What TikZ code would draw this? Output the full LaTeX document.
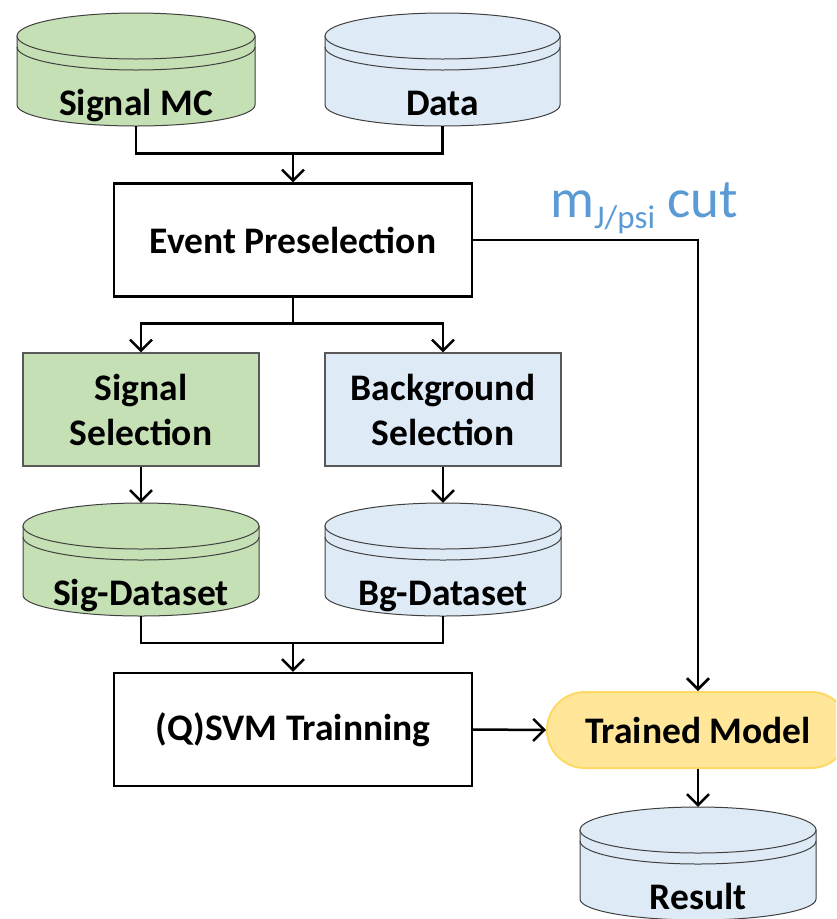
\documentclass[tikz,border=0pt]{standalone}
\usepackage{fontspec}
\setmainfont{Carlito}
\usetikzlibrary{arrows.meta,calc}

\definecolor{sigfill}{HTML}{C5E0B4}
\definecolor{bgfill}{HTML}{DEEBF7}
\definecolor{modelfill}{HTML}{FFE699}
\definecolor{modelline}{HTML}{FFD966}
\definecolor{cylline}{HTML}{404040}
\definecolor{boxline}{HTML}{595959}
\definecolor{cutblue}{HTML}{5B9BD5}

% database cylinder: #1 name, #2 centre x, #3 top-ellipse centre y, #4 x radius, #5 fill, #6 label
\newcommand{\dbstore}[6]{%
  \path[draw=cylline, line width=1pt, fill=#5]
    ({#2-#4},#3) -- ({#2-#4},{#3+69})
    arc[start angle=180, end angle=0, x radius=#4, y radius=21]
    -- ({#2+#4},#3) -- cycle;
  \path[draw=cylline, line width=1pt, fill=#5] (#2,#3) ellipse[x radius=#4, y radius=23];
  \draw[cylline, line width=1pt] ({#2-#4},{#3+11})
    arc[start angle=180, end angle=0, x radius=#4, y radius=23];
  \node[inner sep=0, minimum width={2*#4*1pt}, minimum height=113pt] (#1) at (#2,{#3+33.5}) {};
  \node[lbl, anchor=base] (#1-text) at (#2,{#3+79}) {#6};
}

\begin{document}
\begin{tikzpicture}[x=1pt, y=-1pt,
  lbl/.style={font=\fontsize{37.5}{45}\selectfont\bfseries, align=center, inner sep=0pt},
  procbox/.style={lbl, draw=black, line width=2.2pt, fill=white,
                  minimum width=358pt, minimum height=113pt},
  selbox/.style={lbl, draw=boxline, line width=1.2pt,
                 minimum width=236pt, minimum height=113pt},
  modelbox/.style={lbl, draw=modelline, line width=2pt, fill=modelfill,
                   rounded corners=38pt, minimum width=302pt, minimum height=76pt},
  wire/.style={draw=black, line width=2.5pt},
  flow/.style={wire, -{Straight Barb[length=11pt, width=22pt]}}
]
\useasboundingbox (0,0) rectangle (836,919);
\clip (0,0) rectangle (836,919);
\fill[white] (0,0) rectangle (836,919);

% input stores
\dbstore{smc}{136}{36}{119}{sigfill}{Signal MC}
\dbstore{data}{442.5}{36}{117.5}{bgfill}{Data}

% processing boxes
\node[procbox] (pre) at (293,240) {Event Preselection};
\node[selbox, fill=sigfill] (sigsel) at (141,409.5) {Signal\\Selection};
\node[selbox, fill=bgfill] (bgsel) at (443,409.5) {Background\\Selection};

% selected datasets
\dbstore{sigds}{141}{526}{118}{sigfill}{Sig-Dataset}
\dbstore{bgds}{443}{526}{118}{bgfill}{Bg-Dataset}

\node[procbox] (svm) at (293,729.5) {\raisebox{-3pt}{(Q)SVM Trainning}};
\node[modelbox] (tm) at (698,730) {Trained Model};

\dbstore{res}{698}{830}{118}{bgfill}{Result}

% merge of the two inputs
\coordinate (j1) at ($(pre.north)+(0,-29)$);
\draw[wire] (smc.south) |- (j1);
\draw[wire] (data.south) |- (j1);
\draw[flow] (j1) -- (pre.north);

% split into signal / background selection
\coordinate (j2) at ($(pre.south)+(0,26)$);
\draw[wire] (pre.south) -- (j2);
\draw[flow] (j2) -| (sigsel.north);
\draw[flow] (j2) -| (bgsel.north);

\draw[flow] (sigsel.south) -- (sigds.north);
\draw[flow] (bgsel.south) -- (bgds.north);

% merge of the datasets into training
\coordinate (j3) at ($(svm.north)+(0,-29)$);
\draw[wire] (sigds.south) |- (j3);
\draw[wire] (bgds.south) |- (j3);
\draw[flow] (j3) -- (svm.north);

\draw[flow] (svm.east) -- (tm.west);
\draw[flow] (pre.east) -| (tm.north);
\draw[flow] (tm.south) -- (res.north);

% cut label on the bypass line
\node[anchor=base west, inner sep=0pt, text=cutblue, font=\fontsize{55}{60}\selectfont]
  (cutlbl) at (550,217) {m\raisebox{-11pt}{\fontsize{33}{33}\selectfont J/psi} cut};
\end{tikzpicture}
\end{document}
